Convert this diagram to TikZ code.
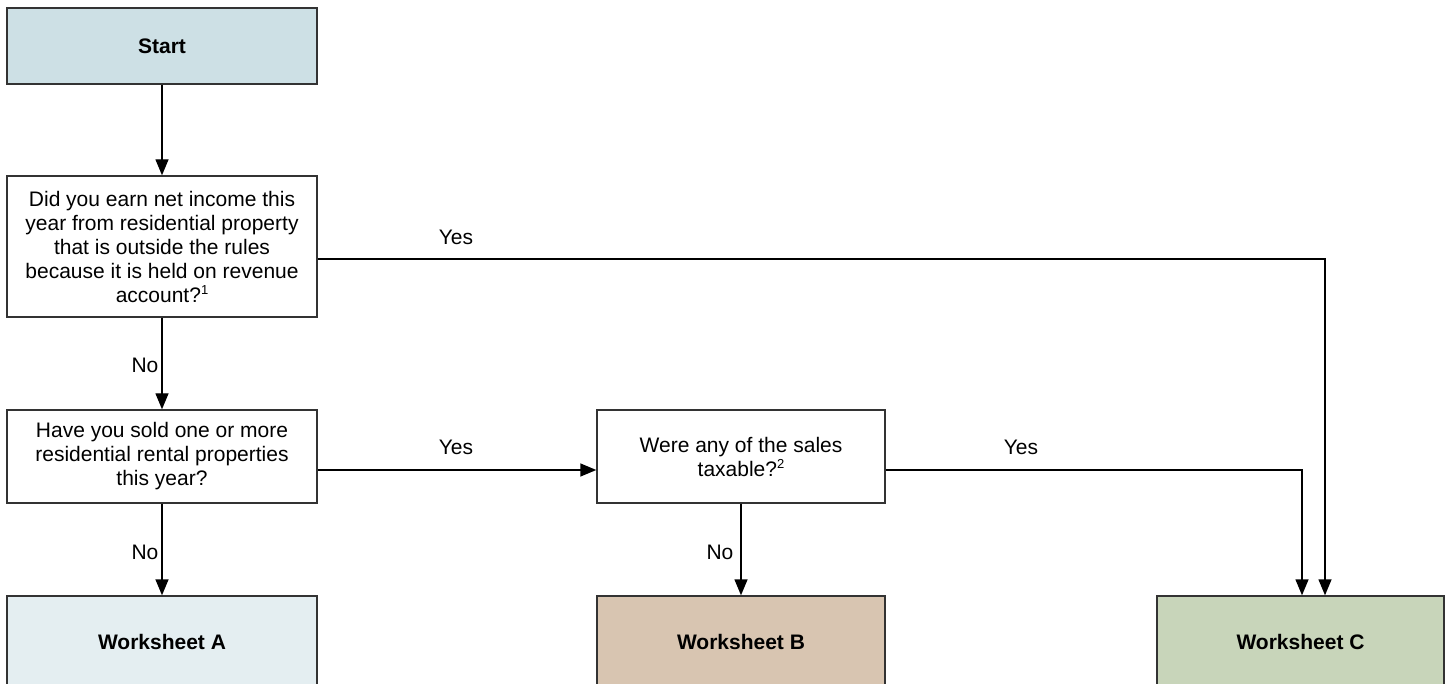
\documentclass[tikz,border=0pt]{standalone}
\usepackage{fontspec}
\setmainfont{Liberation Sans}
\usetikzlibrary{arrows.meta}

\definecolor{startblue}{HTML}{CDE0E5}
\definecolor{sheetA}{HTML}{E4EEF1}
\definecolor{sheetB}{HTML}{D8C5B1}
\definecolor{sheetC}{HTML}{C8D5BA}
\definecolor{edge}{HTML}{333333}

\newcommand{\fnmark}[1]{\raisebox{0.7ex}{\fontsize{13}{13}\selectfont #1}}

\tikzset{
  box/.style={draw=edge, line width=1.4pt, minimum width=310pt, align=center,
              inner sep=4pt, font=\fontsize{21}{24}\selectfont},
  sheet/.style={box, minimum height=92pt, font=\fontsize{21}{24}\selectfont\bfseries},
  flow/.style={line width=1.4pt, -{Triangle[length=16pt,width=13pt]}},
  lbl/.style={font=\fontsize{21}{24}\selectfont}
}

\begin{document}
\begin{tikzpicture}[x=1pt, y=-1pt]
\clip (0,0) rectangle (1451,684);

% Boxes
\node[box, fill=startblue, minimum height=76pt, font=\fontsize{21}{24}\selectfont\bfseries] (start) at (162,46) {Start};
\node[box, minimum height=141pt] (q1) at (162,246.5)
  {Did you earn net income this\\ year from residential property\\ that is outside the rules\\ because it is held on revenue\\ account?\fnmark{1}};
\node[box, minimum height=93pt] (q2) at (162,456.5)
  {Have you sold one or more\\ residential rental properties\\ this year?};
\node[box, minimum width=288pt, minimum height=93pt] (q3) at (741,456.5)
  {Were any of the sales\\ taxable?\fnmark{2}};

% Worksheets (cut off at the bottom)
\node[sheet, fill=sheetA] (wa) at (162,642) {Worksheet A};
\node[sheet, fill=sheetB, minimum width=288pt] (wb) at (741,642) {Worksheet B};
\node[sheet, fill=sheetC, minimum width=287pt] (wc) at (1300.5,642) {Worksheet C};

% Connectors
\draw[flow] (start) -- (q1);
\draw[flow] (q1) -- (q2);
\draw[flow] (q2) -- (wa);
\draw[flow] (q3) -- (wb);
\draw[flow] ([yshift=-13.5pt]q2.east) -- ([yshift=-13.5pt]q3.west);
\draw[flow] ([yshift=-12.5pt]q1.east) -| ([xshift=24.5pt]wc.north);
\draw[flow] ([yshift=-13.5pt]q3.east) -| ([xshift=1.5pt]wc.north);

% Labels
\node[lbl] (no1) at (145,365) {No};
\node[lbl] (no2) at (145,552) {No};
\node[lbl] (no3) at (720,552) {No};
\node[lbl] (yes1) at (456,237) {Yes};
\node[lbl] (yes2) at (456,447) {Yes};
\node[lbl] (yes3) at (1021,447) {Yes};

\end{tikzpicture}
\end{document}
